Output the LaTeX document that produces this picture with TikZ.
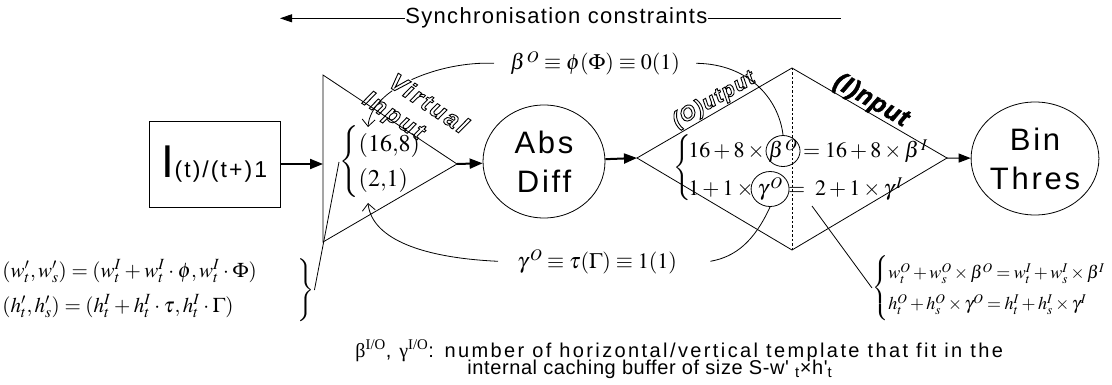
\documentclass[tikz,border=0pt]{standalone}
\usepackage{mathptmx}
\usepackage[no-math]{fontspec}
\setmainfont{Liberation Serif}
\setsansfont{Liberation Sans}
\newfontfamily\arial{Liberation Sans}
\newfontfamily\grk{Liberation Serif}
\usetikzlibrary{arrows.meta,shapes.geometric}
\newcommand{\outl}[1]{\special{pdf:literal direct 1 Tr 0.9 w}#1\special{pdf:literal direct 0 Tr}}
\begin{document}
\begin{tikzpicture}[x=1pt, y=-1pt, line width=0.8pt,
  flow/.style={line width=2pt, -{Triangle[length=13pt,width=10pt]}},
  flowthin/.style={line width=1pt, -{Triangle[length=12pt,width=9pt]}},
  barb/.style={line width=0.8pt, -{Straight Barb[length=7pt,width=13pt]}},
  plain/.style={inner sep=0pt},
  bubble/.style={draw, ellipse, inner sep=0pt, align=center, font=\arial\fontsize{31}{39}\selectfont\addfontfeature{LetterSpace=9}},
  markring/.style={draw, ellipse, inner sep=0pt, line width=0.8pt},
  eqpart/.style={inner sep=0pt, anchor=base west, font=\fontsize{22}{26}\selectfont},
]
\fill[white] (0,0) rectangle (1112,385);
\useasboundingbox (0,0) rectangle (1112,385);

% synchronisation constraints
\node[plain, anchor=base west, font=\arial\fontsize{22}{26}\selectfont\addfontfeature{LetterSpace=6}] (sync) at (405,24) {Synchronisation constraints};
\coordinate (syncL) at (280,17);
\coordinate (syncR) at (841,17);
\draw[-{Triangle[length=12pt,width=8pt]}] (sync.west) -- (sync.west -| syncL);
\draw (sync.east) -- (sync.east -| syncR);

% image box
\node[draw, minimum width=131pt, minimum height=86pt, inner sep=0pt, font=\arial] (img) at (214.5,164) {\fontsize{46}{46}\selectfont I\fontsize{23}{23}\selectfont\addfontfeature{LetterSpace=9}(t)/(t+)1};

% virtual input triangle
\coordinate (tA) at (323,75);
\coordinate (tB) at (323,242);
\coordinate (tR) at (457,164);
\coordinate (tL) at (323,164);
\draw (tA) -- (tB) -- (tR) -- cycle;
\draw[flow] (img.east) -- (tL);

% Abs Diff
\node[bubble, minimum width=122pt, minimum height=113pt] (abs) at (544,161.5) {Abs\\Diff};
\draw[flow] (tR) -- (abs);

% diamond
\coordinate (dL) at (637,158);
\coordinate (dT) at (792,68);
\coordinate (dR) at (947,158);
\coordinate (dB) at (792,250);
\draw (dL) -- (dT) -- (dR) -- (dB) -- cycle;
\draw[dash pattern=on 2.5pt off 2pt] (dT) -- (dB);
\draw[flow] (abs) -- (dL);

% Bin Thres
\node[bubble, minimum width=120pt, minimum height=113pt] (bin) at (1035,158.5) {Bin\\Thres};
\draw[flowthin] (dR) -- (bin);

% (16,8) / (2,1)
\node[plain, anchor=west, font=\fontsize{24}{25}\selectfont] (vb) at (339,162) {\renewcommand{\arraystretch}{1.4}$\left\{\begin{array}{@{}l@{}}(16{,}8)\\(2{,}1)\end{array}\right.$};

% diamond equations
\node[plain, font=\fontsize{22}{26}\selectfont] (ebr) at (683,168) {$\left\{\vcenter{\hrule height 66pt width 0pt}\right.$};
\node[eqpart] (e1a) at (688,158) {$16+8\times{}$};
\node[eqpart] (e1b) at (e1a.base east) {$\beta^{\,O}$};
\node[eqpart] (e1c) at (e1b.base east) {${}={}16+8\times\beta^{\,I}$};
\node[eqpart] (e2a) at (688,196) {$1+1\times{}$};
\node[eqpart] (e2b) at (e2a.base east) {$\gamma^{\,O}$};
\node[eqpart] (e2c) at (e2b.base east) {${}={}\;2+1\times\gamma^{\,I}$};
\node[markring, minimum width=34pt, minimum height=31pt] (mb) at (e1b.center) {};
\node[markring, minimum width=38pt, minimum height=35pt] (mg) at (e2b.center) {};

% top / bottom formulas
\node[plain, anchor=base west, inner xsep=16pt, font=\fontsize{22}{26}\selectfont] (beta) at (494,70) {$\beta^{\,O}\equiv\phi(\Phi)\equiv 0(1)$};
\node[plain, anchor=base west, inner xsep=19pt, font=\fontsize{22}{26}\selectfont] (gam) at (498,268) {$\gamma^{\,O}\equiv\tau(\Gamma)\equiv 1(1)$};

\coordinate (vtip) at (368,127);
\coordinate (gtip) at (368,203);
\draw[barb] (beta.west) .. controls (440,61) and (371,88) .. (vtip);
\draw[barb] (gam.west) .. controls (425,258) and (372,240) .. (gtip);
\draw (beta.east) .. controls (750,64) and (779,100) .. (mb.north);
\draw (mg.south) .. controls (754,242) and (735,257) .. ([xshift=14pt]gam.east);

% edge words
\node[rotate=-33.4, inner sep=1pt, fill=white, font=\arial\bfseries\itshape\fontsize{24}{24}\selectfont\addfontfeature{LetterSpace=10}] (virt) at (429,103) {\outl{Virtual}};
\node[rotate=-33.4, inner sep=1pt, font=\arial\bfseries\itshape\fontsize{24}{24}\selectfont\addfontfeature{LetterSpace=10}] (inp) at (393,117) {\outl{Input}};
\node[rotate=30.1, inner sep=1pt, font=\arial\bfseries\itshape\fontsize{21}{21}\selectfont\addfontfeature{LetterSpace=6}] (outw) at (714,100) {\outl{(O)utput}};
\node[rotate=-30.1, inner sep=1pt, font=\arial\bfseries\itshape\fontsize{25}{25}\selectfont\addfontfeature{LetterSpace=3,FakeBold=2}] (inw) at (871,101) {(I)nput};

% left equations
\node[plain, anchor=west, font=\fontsize{21}{24}\selectfont] (leq) at (2,288) {\renewcommand{\arraystretch}{1.46}\medmuskip=3mu\thickmuskip=4mu$\begin{array}{@{}l@{}}(w'_t, w'_s) = (w^I_t + w^I_t\cdot\phi, w^I_t\cdot\Phi)\\(h'_t, h'_s) = (h^I_t + h^I_t\cdot\tau, h^I_t\cdot\Gamma)\end{array}$};
\node[plain, font=\fontsize{21}{24}\selectfont] (lbr) at (305,290) {$\left.\vcenter{\hrule height 64pt width 0pt}\right\}$};
\draw (lbr.east) -- (vb.west);

% right equations
\node[plain, anchor=west, font=\fontsize{18}{22}\selectfont] (req) at (872,288) {\renewcommand{\arraystretch}{1.41}\medmuskip=2.5mu\thickmuskip=3.5mu$\left\{\begin{array}{@{}l@{}}w^O_t + w^O_s\times\beta^O = w^I_t + w^I_s\times\beta^I\\h^O_t + h^O_s\times\gamma^O = h^I_t + h^I_s\times\gamma^I\end{array}\right.$};
\coordinate (eqpoint) at (812,206);
\draw (eqpoint) -- (req.west);

% notes
\node[plain, anchor=base west, font=\arial\fontsize{20}{22}\selectfont\addfontfeature{LetterSpace=12}] (note1) at (355,357) {{\grk β}\textsuperscript{\grk I/O}, {\grk γ}\textsuperscript{\grk I/O}: number of horizontal/vertical template that fit in the};
\node[plain, anchor=base west, font=\arial\fontsize{20}{22}\selectfont\addfontfeature{LetterSpace=3}] (note2) at (467,374) {internal caching buffer of size S-w' \textsubscript{t}×h'\textsubscript{t}};
\end{tikzpicture}
\end{document}
